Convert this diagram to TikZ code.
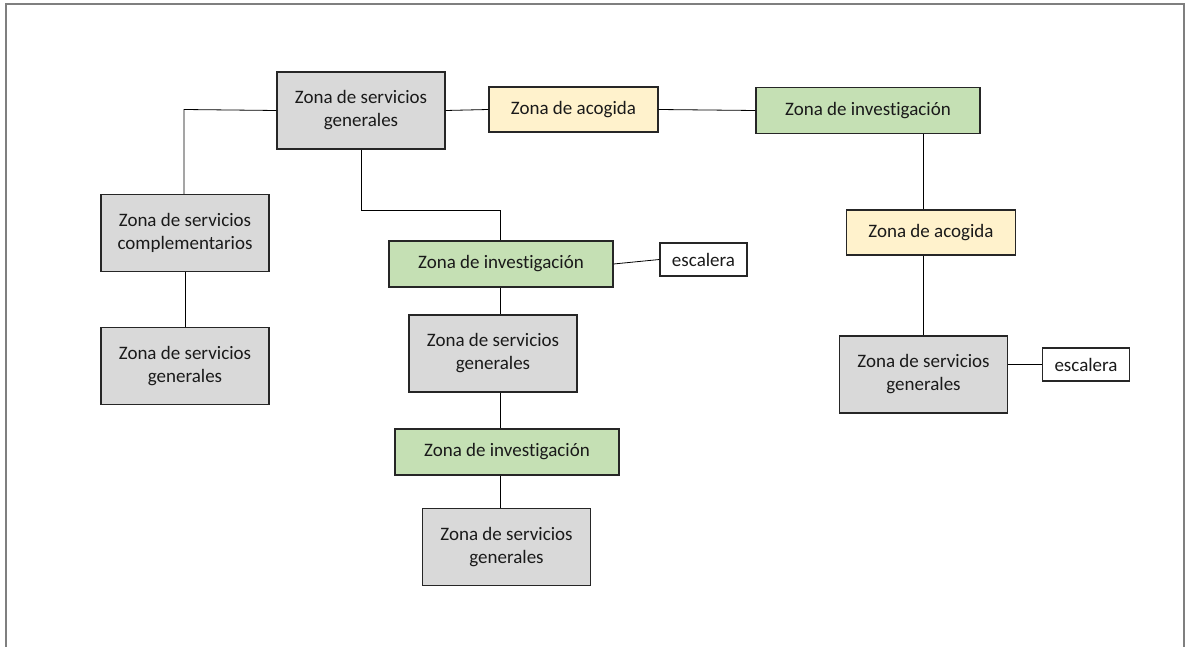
\documentclass[tikz,border=0pt]{standalone}
\usepackage{fontspec}
\setmainfont{Carlito}[Ligatures={NoCommon}]
\definecolor{gfill}{HTML}{D9D9D9}
\definecolor{yfill}{HTML}{FFF2CC}
\definecolor{vfill}{HTML}{C5E0B4}
\definecolor{frame}{HTML}{7F7F7F}
\definecolor{edge}{HTML}{262626}
\definecolor{txt}{HTML}{1A1A1A}
\begin{document}
\begin{tikzpicture}[x=1pt,y=-1pt,
  zone/.style={draw=edge,line width=1.1pt,align=center,inner sep=0pt,text=txt,font=\fontsize{19}{23}\selectfont},
  gz/.style={zone,fill=gfill,minimum width=168pt,minimum height=77pt},
  yz/.style={zone,fill=yfill,minimum width=169pt,minimum height=45pt},
  vz/.style={zone,fill=vfill,minimum width=224pt,minimum height=46pt},
  ez/.style={zone,fill=white,minimum width=87pt,minimum height=33pt},
  link/.style={draw=black,line width=0.8pt}]
\useasboundingbox (0,0) rectangle (1187,647);
\draw[frame,line width=1.6pt] (6,660) -- (6,4) -- (1184,4) -- (1184,660);
% nodes
\node[gz] (zsg1) at (361,110.5) {Zona de servicios\\generales};
\node[yz] (acog1) at (573.5,109.5) {Zona de acogida};
\node[vz] (inv1) at (868,110.5) {Zona de investigación};
\node[gz] (comp) at (185,233) {Zona de servicios\\complementarios};
\node[gz] (zsg2) at (185,366) {Zona de servicios\\generales};
\node[vz] (inv2) at (501,264) {Zona de investigación};
\node[ez] (esc1) at (703.5,259.5) {escalera};
\node[gz] (zsg3) at (493,353.5) {Zona de servicios\\generales};
\node[vz] (inv3) at (507,452) {Zona de investigación};
\node[gz] (zsg5) at (506.5,547) {Zona de servicios\\generales};
\node[yz] (acog2) at (931,232.5) {Zona de acogida};
\node[gz] (zsg4) at (923.5,374.5) {Zona de servicios\\generales};
\node[ez] (esc2) at (1086,364.5) {escalera};
% coordinates
\coordinate (c1) at (184,109.5);
\coordinate (c2) at (361,210.5);
\coordinate (c3) at (500,210.5);
% connectors
\draw[link] (zsg1.west) -- (c1) -- (comp.north -| c1);
\draw[link] (zsg1.east) -- (acog1.west);
\draw[link] (acog1.east) -- (inv1.west);
\draw[link] (zsg4.north |- inv1.south) -- (zsg4.north |- acog2.north);
\draw[link] (zsg4.north |- acog2.south) -- (zsg4.north);
\draw[link] (zsg4.east |- esc2.west) -- (esc2.west);
\draw[link] (zsg1.south) -- (c2) -- (c3) -- (inv2.north -| c3);
\draw[link] (inv2.east) -- (esc1.west);
\draw[link] (inv2.south -| c3) -- (zsg3.north -| c3);
\draw[link] (zsg3.south -| c3) -- (inv3.north -| c3);
\draw[link] (inv3.south -| c3) -- (zsg5.north -| c3);
\draw[link] (comp.south) -- (zsg2.north);
\end{tikzpicture}
\end{document}
